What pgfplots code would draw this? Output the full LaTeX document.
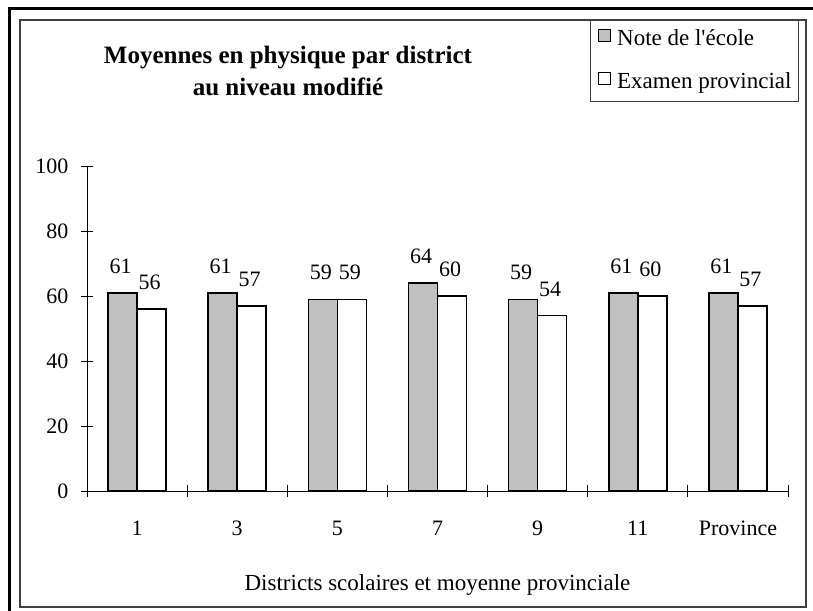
\documentclass[border=0pt]{standalone}
\usepackage{fontspec}
\setmainfont{Liberation Serif}[BoldFont={Liberation Serif Bold}]
\usepackage{pgfplots}
\pgfplotsset{compat=1.18}
\definecolor{barGray}{RGB}{192,192,192}
\definecolor{frameGray}{RGB}{64,64,64}
\begin{document}
\begin{tikzpicture}
\useasboundingbox (0pt,0pt) rectangle (813pt,-610pt);
\begin{scope}
\clip (0pt,0pt) rectangle (813pt,-610pt);
\draw[line width=3pt] (9pt,-650pt) -- (9pt,-9pt) -- (850pt,-9pt);
\end{scope}
\draw[frameGray, line width=2pt] (20pt,-20pt) rectangle (806pt,-607pt);
\node[font=\fontsize{25}{32}\selectfont\bfseries, align=center] at (288pt,-71pt) {Moyennes en physique par district\\au niveau modifié};
\begin{axis}[
  at={(87pt,-491pt)}, anchor=south west,
  scale only axis, width=701pt, height=325pt,
  ybar=0pt, bar width=29pt,
  ymin=0, ymax=100, ytick={0,20,...,100},
  xmin=-0.5, xmax=6.5,
  xtick={-0.5,0.5,...,6.5},
  x tick label as interval,
  xticklabels={1,3,5,7,9,11,Province},
  axis x line*=bottom, axis y line*=left,
  tick align=center, major tick length=12pt,
  tick style={black, line width=0.8pt},
  axis line style={black, line width=1pt},
  tick label style={font=\fontsize{22}{26}\selectfont},
  xticklabel style={anchor=base, text height=15pt, text depth=0pt, yshift=-38pt},
  yticklabel style={anchor=east, xshift=-9pt},
  /pgf/number format/assume math mode=true,
  xlabel={Districts scolaires et moyenne provinciale},
  xlabel style={font=\fontsize{23}{27}\selectfont, at={(axis description cs:0.5,0)}, anchor=base, yshift=-99pt},
  nodes near coords,
  nodes near coords style={font=\fontsize{22}{26}\selectfont, anchor=base, yshift=19.5pt, xshift=-2pt, inner sep=0pt, text height=15pt, text depth=0pt},
  legend style={at={(axis description cs:1.0157,1.449)}, anchor=north east,
    draw=frameGray, line width=1pt, font=\fontsize{23}{27}\selectfont,
    nodes={inner sep=0pt, text height=16pt, text depth=5pt},
    row sep=21pt, inner xsep=7pt, inner ysep=8pt,
    /tikz/every odd column/.append style={column sep=6pt}},
  legend cell align=left,
]
\addplot[draw=black, fill=barGray, line width=1.5pt,
  legend image code/.code={\draw[fill=barGray, draw=black, line width=1.2pt] (0pt,-1pt) rectangle (12pt,11pt);}]
  coordinates {(0,61) (1,61) (2,59) (3,64) (4,59) (5,61) (6,61)};
\addplot[draw=black, fill=white, line width=1.5pt,
  legend image code/.code={\draw[fill=white, draw=black, line width=1.2pt] (0pt,-1pt) rectangle (12pt,11pt);}]
  coordinates {(0,56) (1,57) (2,59) (3,60) (4,54) (5,60) (6,57)};
\legend{Note de l\textquotesingle école, Examen provincial}
\end{axis}
\end{tikzpicture}
\end{document}
